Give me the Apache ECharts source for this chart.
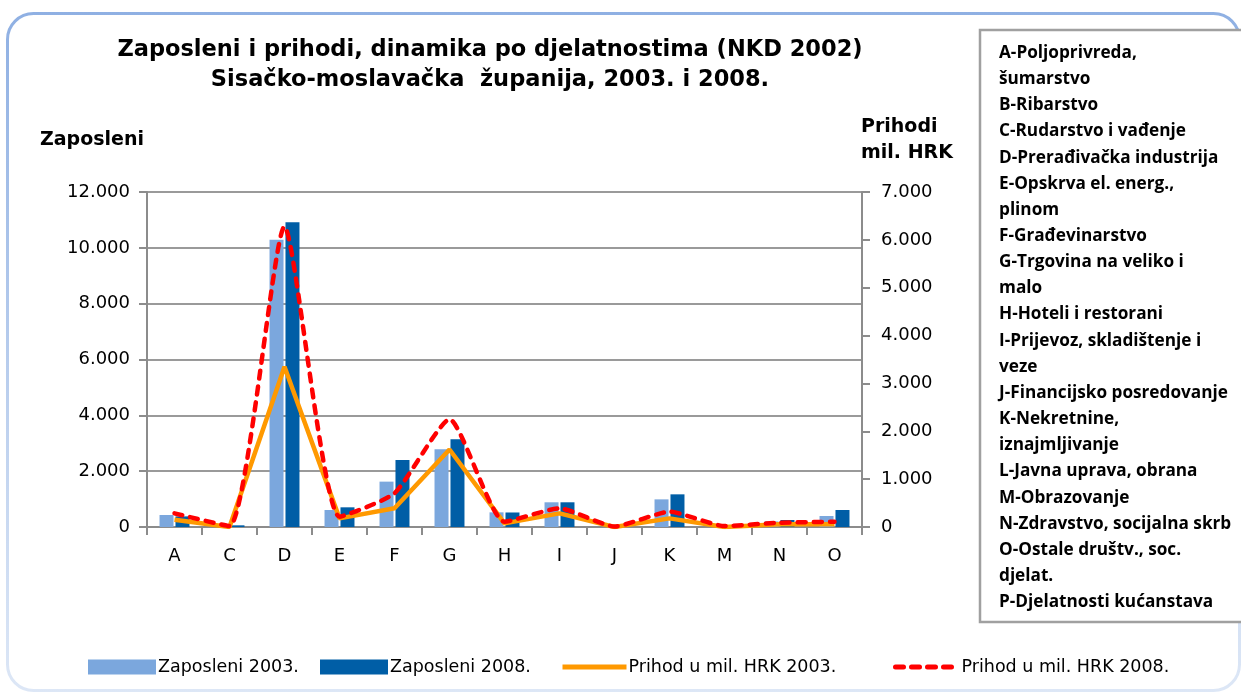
<!DOCTYPE html>
<html>
<head>
<meta charset="utf-8">
<title>Zaposleni i prihodi</title>
<script src="https://cdn.jsdelivr.net/npm/echarts@6/dist/echarts.min.js"></script>
<style>
  html, body { margin: 0; padding: 0; background: #fff; }
  #chart { width: 1241px; height: 694px; }
</style>
</head>
<body>
<div id="chart"></div>
<script>
  const categories = ['A', 'C', 'D', 'E', 'F', 'G', 'H', 'I', 'J', 'K', 'M', 'N', 'O'];
  const zaposleni2003 = [430, 30, 10290, 610, 1625, 2785, 525, 885, 0, 990, 30, 200, 395];
  const zaposleni2008 = [380, 60, 10920, 705, 2400, 3140, 520, 885, 0, 1170, 50, 250, 610];
  const prihod2003 = [150, 0, 3350, 180, 390, 1620, 75, 285, 0, 180, 0, 60, 60];
  const prihod2008 = [285, 20, 6275, 215, 705, 2250, 110, 390, 10, 320, 20, 90, 110];
  const leftTicks = { min: 0, max: 12000, interval: 2000 };
  const rightTicks = { min: 0, max: 7000, interval: 1000 };
  const seriesNames = ['Zaposleni 2003.', 'Zaposleni 2008.', 'Prihod u mil. HRK 2003.', 'Prihod u mil. HRK 2008.'];
  const sectorNames = [
    'A-Poljoprivreda,', 'šumarstvo', 'B-Ribarstvo', 'C-Rudarstvo i vađenje',
    'D-Prerađivačka industrija', 'E-Opskrva el. energ.,', 'plinom', 'F-Građevinarstvo',
    'G-Trgovina na veliko i', 'malo', 'H-Hoteli i restorani', 'I-Prijevoz, skladištenje i',
    'veze', 'J-Financijsko posredovanje', 'K-Nekretnine,', 'iznajmljivanje',
    'L-Javna uprava, obrana', 'M-Obrazovanje', 'N-Zdravstvo, socijalna skrb',
    'O-Ostale društv., soc.', 'djelat.', 'P-Djelatnosti kućanstava'
  ];

  const chart = echarts.init(document.getElementById('chart'));
  const FONT = 'DejaVu Sans';
  const fmt = (v) => (v === 0 ? '0' : v.toLocaleString('de-DE'));

  // one legend per item so each can sit where the original puts it
  const legendLefts = [88, 320, 560, 893];
  const hiddenSymbol = { color: 'rgba(0,0,0,0)', borderWidth: 0, opacity: 0 };
  const legends = seriesNames.map((name, i) => ({
    left: legendLefts[i],
    top: 658,
    padding: 0,
    itemWidth: i < 2 ? 68 : 64,
    itemHeight: 15,
    textStyle: { fontFamily: FONT, fontSize: 17.5, color: '#000', padding: [0, 0, 0, -3] },
    data: [i < 2
      ? { name, icon: 'rect' }
      : { name, itemStyle: hiddenSymbol, lineStyle: { width: 5 } }]
  }));

  chart.setOption({
    animation: false,
    backgroundColor: '#fff',
    textStyle: { fontFamily: FONT, color: '#000' },
    title: {
      text: 'Zaposleni i prihodi, dinamika po djelatnostima (NKD 2002)\nSisačko-moslavačka  županija, 2003. i 2008.',
      left: 485,
      top: 30,
      textAlign: 'center',
      textStyle: { fontFamily: FONT, fontSize: 22.5, fontWeight: 'bold', lineHeight: 30, color: '#000' }
    },
    graphic: [
      {
        type: 'rect',
        shape: { x: 7.5, y: 13.5, width: 1232, height: 677, r: 26 },
        style: {
          fill: 'none',
          lineWidth: 3,
          stroke: new echarts.graphic.LinearGradient(0, 0, 0, 1, [
            { offset: 0, color: '#8fb0e3' },
            { offset: 1, color: '#dde7f6' }
          ])
        },
        z: -1
      },
      {
        type: 'rect',
        shape: { x: 980, y: 30, width: 280, height: 592 },
        style: { fill: '#fff', stroke: '#a0a0a0', lineWidth: 2.5 }
      },
      {
        type: 'text',
        left: 999,
        top: 40,
        style: {
          text: sectorNames.join('\n'),
          fontFamily: 'Open Sans',
          fontWeight: 'bold',
          fontSize: 17.2,
          lineHeight: 26.15,
          fill: '#000'
        }
      },
      {
        type: 'text',
        left: 40,
        top: 131,
        style: { text: 'Zaposleni', fontFamily: FONT, fontWeight: 'bold', fontSize: 19, fill: '#000' }
      },
      {
        type: 'text',
        left: 861,
        top: 114,
        style: { text: 'Prihodi\nmil. HRK', fontFamily: FONT, fontWeight: 'bold', fontSize: 19, lineHeight: 26, fill: '#000' }
      }
    ],
    legend: legends,
    grid: { left: 147, right: 379, top: 192, bottom: 167 },
    xAxis: {
      type: 'category',
      data: categories,
      axisLine: { lineStyle: { color: '#8c8c8c', width: 2 } },
      axisTick: { show: true, length: 8, lineStyle: { color: '#8c8c8c', width: 2 } },
      axisLabel: { fontFamily: FONT, fontSize: 18, color: '#000', margin: 20 }
    },
    yAxis: [
      {
        type: 'value',
        min: leftTicks.min,
        max: leftTicks.max,
        interval: leftTicks.interval,
        axisLine: { show: true, lineStyle: { color: '#8c8c8c', width: 2 } },
        axisTick: { show: true, length: 8, lineStyle: { color: '#8c8c8c', width: 2 } },
        axisLabel: { fontFamily: FONT, fontSize: 18, color: '#000', margin: 17, formatter: fmt },
        splitLine: { show: true, lineStyle: { color: '#9a9a9a', width: 2 } }
      },
      {
        type: 'value',
        min: rightTicks.min,
        max: rightTicks.max,
        interval: rightTicks.interval,
        axisLine: { show: true, lineStyle: { color: '#8c8c8c', width: 2 } },
        axisTick: { show: true, length: 8, lineStyle: { color: '#8c8c8c', width: 2 } },
        axisLabel: { fontFamily: FONT, fontSize: 18, color: '#000', margin: 19, formatter: fmt },
        splitLine: { show: false }
      }
    ],
    series: [
      {
        name: seriesNames[0],
        type: 'bar',
        data: zaposleni2003,
        barWidth: 14,
        barGap: '14%',
        itemStyle: { color: '#7ba7dd' }
      },
      {
        name: seriesNames[1],
        type: 'bar',
        data: zaposleni2008,
        barWidth: 14,
        barGap: '14%',
        itemStyle: { color: '#005ea6' }
      },
      {
        name: seriesNames[2],
        type: 'line',
        yAxisIndex: 1,
        data: prihod2003,
        symbol: 'none',
        lineStyle: { color: '#ff9900', width: 4.5 },
        itemStyle: { color: '#ff9900' },
        z: 3
      },
      {
        name: seriesNames[3],
        type: 'line',
        yAxisIndex: 1,
        data: prihod2008,
        symbol: 'none',
        smooth: 0.18,
        lineStyle: { color: '#ff0000', width: 4.5, type: [8, 8], cap: 'round' },
        itemStyle: { color: '#ff0000' },
        z: 4
      }
    ]
  });

  window.addEventListener('resize', () => {
    chart.resize();
  });
</script>
</body>
</html>
